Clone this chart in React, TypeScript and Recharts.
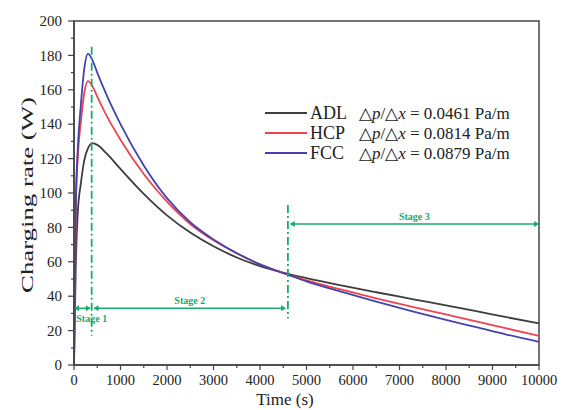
import React from "react";
import { LineChart, Line, XAxis, YAxis, ReferenceLine, ReferenceArea } from "recharts";

const times = [0, 40, 80, 150, 220, 300, 400, 500, 700, 1000, 1500, 2000, 2500, 3000, 3500, 4000, 4600, 5000, 5800, 6500, 7300, 8000, 8650, 9300, 10000];
const adl = [0, 60, 88, 106, 119, 126, 129, 128, 123, 114, 99.5, 87, 77, 69, 62.5, 57.5, 53, 50.5, 46, 42.3, 38.2, 34.6, 31.3, 27.8, 24.2];
const hcp = [0, 92, 120, 142, 158, 165, 162, 156, 145, 131, 111, 95, 82, 72.5, 65, 58.5, 52.5, 49.2, 43.5, 38.8, 33.7, 29.4, 25.4, 21.3, 17];
const fcc = [0, 95, 125, 152, 172, 181, 177, 170, 157, 140, 116, 97, 83, 73, 65, 58.5, 52.5, 48.6, 42.2, 36.8, 31, 26.2, 22, 17.7, 13.5];

const seriesNames = ["ADL", "HCP", "FCC"];
const gradients = ["0.0461", "0.0814", "0.0879"];
const xTicks = [0, 500, 1000, 1500, 2000, 2500, 3000, 3500, 4000, 4500, 5000, 5500, 6000, 6500, 7000, 7500, 8000, 8500, 9000, 9500, 10000];
const yTicks = [0, 10, 20, 30, 40, 50, 60, 70, 80, 90, 100, 110, 120, 130, 140, 150, 160, 170, 180, 190, 200];

const stageBoundary1 = 380;
const stageBoundary2 = 4600;
const stageArrowY12 = 33;
const stageArrowY3 = 82;

const data = times.map((t, i) => ({ t, adl: adl[i], hcp: hcp[i], fcc: fcc[i] }));

const COLORS = ["#3d3d3d", "#f0434f", "#4343b0"];
const GREEN = "#17ab6c";
const AXIS = "#444";
const FONT = "Liberation Serif";

const XTick = (props: any) => {
  const { x, y, payload } = props;
  const v = payload.value;
  const major = v % 1000 === 0;
  return (
    <g>
      <line x1={x} x2={x} y1={y} y2={y + (major ? 5 : 3)} stroke={AXIS} strokeWidth={1.2} />
      {major && (
        <text x={x} y={y + 20} textAnchor="middle" fontSize={14.5} style={{ fontFamily: FONT }} fill="#222">
          {v}
        </text>
      )}
    </g>
  );
};

const YTick = (props: any) => {
  const { x, y, payload } = props;
  const v = payload.value;
  const major = v % 20 === 0;
  return (
    <g>
      <line x1={x - (major ? 6 : 3)} x2={x} y1={y} y2={y} stroke={AXIS} strokeWidth={1.2} />
      {major && (
        <text x={x - 12} y={y} dy="0.35em" textAnchor="end" fontSize={15} style={{ fontFamily: FONT }} fill="#222">
          {v}
        </text>
      )}
    </g>
  );
};

const VDash = (props: any) => {
  const { x1, y1, x2, y2 } = props;
  return <line x1={x1} y1={y1} x2={x2} y2={y2} stroke={GREEN} strokeWidth={1.8} strokeDasharray="8 3 2 3" />;
};

const makeArrow = (label: string, labelBelow: boolean, labelX?: number) => (props: any) => {
  const { x1, y1, x2, y2 } = props;
  const a = 5;
  const h = 3;
  const lx = labelX !== undefined ? labelX : (x1 + x2) / 2;
  return (
    <g>
      <line x1={x1 + 1} y1={y1} x2={x2 - 1} y2={y2} stroke={GREEN} strokeWidth={1.5} />
      <polygon points={`${x1},${y1} ${x1 + a},${y1 - h} ${x1 + a},${y1 + h}`} fill={GREEN} />
      <polygon points={`${x2},${y2} ${x2 - a},${y2 - h} ${x2 - a},${y2 + h}`} fill={GREEN} />
      <text
        x={lx}
        y={labelBelow ? y1 + 14 : y1 - 4}
        textAnchor="middle"
        fontSize={10}
        fontWeight="bold"
        style={{ fontFamily: FONT }}
        fill={GREEN}
      >
        {label}
      </text>
    </g>
  );
};

const Stage1Arrow = (props: any) => makeArrow("Stage 1", true, props.x2 + 1)(props);
const Stage2Arrow = makeArrow("Stage 2", false);
const Stage3Arrow = makeArrow("Stage 3", false);

const Overlay = () => (
  <g>
    <text
      x={27.5}
      y={195}
      transform="rotate(-90 27.5 195)"
      textAnchor="middle"
      dominantBaseline="central"
      fontSize={16.5}
      style={{ fontFamily: FONT }}
      fill="#222"
      textLength={196}
      lengthAdjust="spacingAndGlyphs"
    >
      Charging rate (W)
    </text>
    {seriesNames.map((name, i) => {
      const y = 113 + i * 20;
      return (
        <g key={name}>
          <line x1={265} x2={307} y1={y} y2={y} stroke={COLORS[i]} strokeWidth={1.8} />
          <text x={310} y={y + 6} fontSize={18} style={{ fontFamily: FONT }} fill="#222">
            {name}
          </text>
          <text x={359} y={y + 6} fontSize={17} style={{ fontFamily: FONT }} fill="#222">
            △<tspan fontStyle="italic">p</tspan>/△<tspan fontStyle="italic">x</tspan>
            {` = ${gradients[i]} Pa/m`}
          </text>
        </g>
      );
    })}
  </g>
);

const XTitle = () => (
  <text x={285} y={405} textAnchor="middle" fontSize={17} style={{ fontFamily: FONT }} fill="#222">
    Time (s)
  </text>
);

export default function App() {
  return (
    <div style={{ position: "absolute", left: 0, top: 0, background: "#fff" }}>
      <LineChart width={563} height={410} data={data} margin={{ top: 21, right: 24, left: 0, bottom: 0 }}>
        <XAxis
          dataKey="t"
          type="number"
          domain={[0, 10000]}
          ticks={xTicks}
          interval={0}
          tickSize={0}
          tickMargin={0}
          tickLine={false}
          tick={<XTick />}
          height={45}
          stroke={AXIS}
          strokeWidth={1.5}
          label={{ content: () => <XTitle /> }}
        />
        <YAxis
          type="number"
          domain={[0, 200]}
          ticks={yTicks}
          interval={0}
          tickSize={0}
          tickMargin={0}
          tickLine={false}
          tick={<YTick />}
          width={74}
          stroke={AXIS}
          strokeWidth={1.5}
          label={{ content: () => <Overlay /> }}
        />
        <ReferenceArea x1={0} x2={10000} y1={0} y2={200} fill="none" fillOpacity={0} stroke={AXIS} strokeWidth={1.5} ifOverflow="visible" />
        <Line dataKey="adl" type="monotone" stroke={COLORS[0]} strokeWidth={1.8} dot={false} isAnimationActive={false} />
        <Line dataKey="hcp" type="monotone" stroke={COLORS[1]} strokeWidth={1.8} dot={false} isAnimationActive={false} />
        <Line dataKey="fcc" type="monotone" stroke={COLORS[2]} strokeWidth={1.8} dot={false} isAnimationActive={false} />
        <ReferenceLine segment={[{ x: stageBoundary1, y: 185 }, { x: stageBoundary1, y: 17 }]} shape={<VDash />} ifOverflow="visible" />
        <ReferenceLine segment={[{ x: stageBoundary2, y: 93 }, { x: stageBoundary2, y: 27 }]} shape={<VDash />} ifOverflow="visible" />
        <ReferenceLine segment={[{ x: 0, y: stageArrowY12 }, { x: stageBoundary1 - 20, y: stageArrowY12 }]} shape={<Stage1Arrow />} ifOverflow="visible" />
        <ReferenceLine segment={[{ x: stageBoundary1 + 40, y: stageArrowY12 }, { x: stageBoundary2 - 40, y: stageArrowY12 }]} shape={<Stage2Arrow />} ifOverflow="visible" />
        <ReferenceLine segment={[{ x: stageBoundary2 + 40, y: stageArrowY3 }, { x: 10000, y: stageArrowY3 }]} shape={<Stage3Arrow />} ifOverflow="visible" />
      </LineChart>
    </div>
  );
}
